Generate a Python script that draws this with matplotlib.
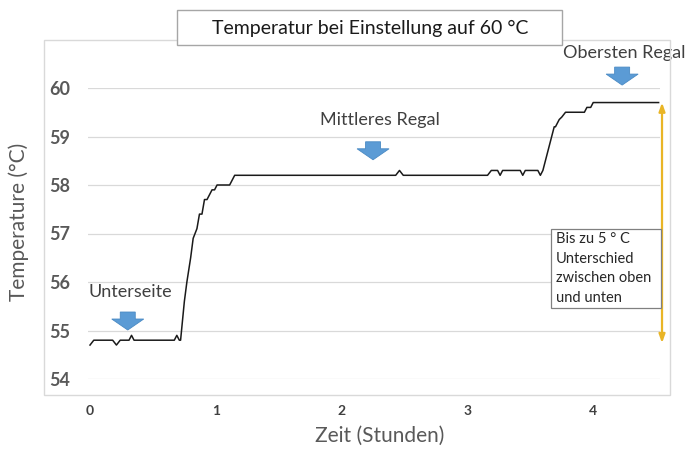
import matplotlib.pyplot as plt
from matplotlib.patches import Rectangle, Polygon

hours = [0.00, 0.03, 0.18, 0.21, 0.24, 0.31, 0.33, 0.35, 0.67, 0.69, 0.71, 0.72,
         0.75, 0.77, 0.80, 0.82, 0.85, 0.87, 0.89, 0.91, 0.93, 0.95, 0.97, 0.99,
         1.01, 1.11, 1.15, 2.43, 2.46, 2.49, 3.16, 3.19, 3.24, 3.26, 3.28, 3.42,
         3.44, 3.46, 3.56, 3.58, 3.60, 3.63, 3.66, 3.69, 3.70, 3.73, 3.75, 3.78,
         3.93, 3.95, 3.98, 4.00, 4.52]
temps = [54.7, 54.8, 54.8, 54.7, 54.8, 54.8, 54.9, 54.8, 54.8, 54.9, 54.8, 54.8,
         55.6, 56.0, 56.5, 56.9, 57.1, 57.4, 57.4, 57.7, 57.7, 57.8, 57.9, 57.9,
         58.0, 58.0, 58.2, 58.2, 58.3, 58.2, 58.2, 58.3, 58.3, 58.2, 58.3, 58.3,
         58.2, 58.3, 58.3, 58.2, 58.3, 58.6, 58.9, 59.2, 59.2, 59.35, 59.4, 59.5,
         59.5, 59.6, 59.6, 59.7, 59.7]

x_ticks = [0, 1, 2, 3, 4]
y_ticks = [54, 55, 56, 57, 58, 59, 60]

# Markierungen: (Text, x, Spitze des Pfeils)
marks = [("Unterseite", 0.30, 55.01),
         ("Mittleres Regal", 2.25, 58.52),
         ("Obersten Regal", 4.23, 60.06)]
diff_top = 59.7
diff_bottom = 54.74
note_text = "Bis zu 5 ° C\nUnterschied\nzwischen oben\nund unten"

plt.rcParams['font.family'] = ['Lato', 'DejaVu Sans']

fig = plt.figure(figsize=(6.86, 4.5), dpi=100)
ax = fig.add_axes([88 / 686, 71 / 450, 572 / 686, 291 / 450])

# Rahmen um das Diagramm
fig.patches.append(Rectangle((44 / 686, 55 / 450), 626 / 686, 355 / 450,
                             transform=fig.transFigure, fill=False,
                             ec='#d9d9d9', lw=1.0, zorder=0))

ax.plot(hours, temps, color='#1a1a1a', lw=1.1, zorder=3)

ax.set_xlim(-0.016, 4.531)
ax.set_ylim(54, 60)
ax.set_xticks(x_ticks)
ax.set_yticks(y_ticks)
ax.set_xticklabels([str(v) for v in x_ticks], fontsize=10, fontweight='bold', color='#404040')
ax.set_yticklabels([str(v) for v in y_ticks], fontsize=13, fontweight='bold', color='#595959')
ax.tick_params(axis='x', length=0, pad=19)
ax.tick_params(axis='y', length=0, pad=13)
ax.grid(axis='y', color='#d9d9d9', lw=0.9)
ax.set_axisbelow(True)
for s in ax.spines.values():
    s.set_visible(False)

ax.set_xlabel("Zeit (Stunden)", fontsize=15, color='#595959')
ax.xaxis.set_label_coords(0.51, -0.16)
ax.set_ylabel("Temperature (°C)", fontsize=15, color='#595959')
ax.yaxis.set_label_coords(-0.103, 0.54)

# blaue Pfeile mit Beschriftung
px_x = 125.8  # Pixel pro Stunde
px_y = 48.5   # Pixel pro Grad
for label, x, tip in marks:
    bw, hw, bh, hh = 7.5 / px_x, 16 / px_x, 7 / px_y, 11 / px_y
    pts = [(x, tip), (x - hw, tip + hh), (x - bw, tip + hh), (x - bw, tip + hh + bh),
           (x + bw, tip + hh + bh), (x + bw, tip + hh), (x + hw, tip + hh)]
    ax.add_patch(Polygon(pts, closed=True, fc='#5b9bd5', ec='#4a8ac4', lw=0.6,
                         clip_on=False, zorder=4))
ax.text(-0.01, 55.8, marks[0][0], fontsize=13, color='#404040', va='center', ha='left')
ax.text(2.305, 59.33, marks[1][0], fontsize=13, color='#404040', va='center', ha='center')
ax.text(4.245, 60.73, marks[2][0], fontsize=13, color='#404040', va='center', ha='center',
        clip_on=False)

# gelber Doppelpfeil
ax.annotate("", xy=(4.547, diff_bottom), xytext=(4.547, diff_top),
            arrowprops=dict(arrowstyle='<|-|>,head_length=0.5,head_width=0.18',
                            color='#e9b526', lw=1.6, shrinkA=0, shrinkB=0),
            annotation_clip=False, zorder=5)

# Textfeld
ax.add_patch(Rectangle((3.665, 55.46), 0.874, 1.63, fc='white', ec='#808080',
                       lw=0.9, clip_on=False, zorder=6))
ax.text(3.705, 57.03, note_text, fontsize=10.5, color='#262626', va='top', ha='left',
        linespacing=1.5, zorder=7)

# Titel im Kasten
fig.patches.append(Rectangle((177 / 686, 405 / 450), 385 / 686, 35 / 450,
                             transform=fig.transFigure, fc='white', ec='#a6a6a6',
                             lw=1.0, zorder=2))
fig.text(370 / 686, 422 / 450, "Temperatur bei Einstellung auf 60 °C", fontsize=14,
         color='#1a1a1a', ha='center', va='center', zorder=3)

fig.savefig("out.png", dpi=100)
